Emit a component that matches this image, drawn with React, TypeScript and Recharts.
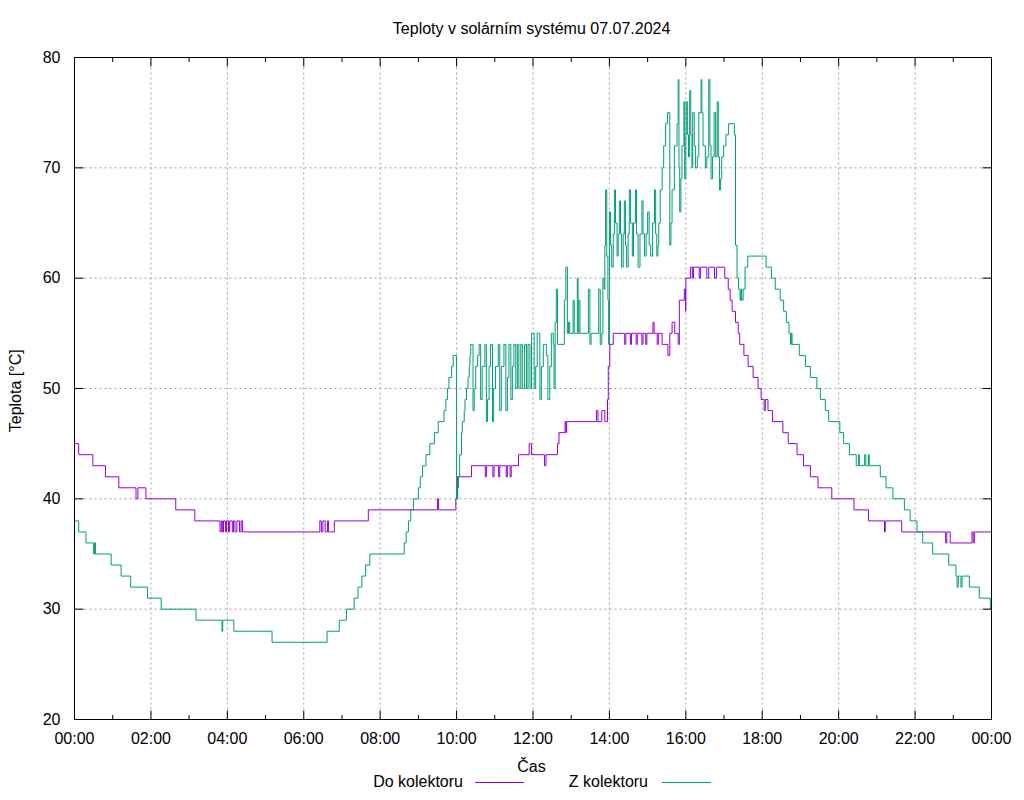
import React from 'react';
import { LineChart, Line, XAxis, YAxis, CartesianGrid, ReferenceLine } from 'recharts';

const PURPLE = '#9400d3';
const GREEN = '#009e73';
const FONT = '"Liberation Sans", Arial, sans-serif';

const TITLE = 'Teploty v solárním systému 07.07.2024';
const X_LABEL = 'Čas';
const Y_LABEL = 'Teplota [°C]';
const SERIES_NAMES = ['Do kolektoru', 'Z kolektoru'];

const hourTicks = [0, 1, 2, 3, 4, 5, 6, 7, 8, 9, 10, 11, 12, 13, 14, 15, 16, 17, 18, 19, 20, 21, 22, 23, 24];
const gridHours = [2, 4, 6, 8, 10, 12, 14, 16, 18, 20, 22];
const tempTicks = [20, 30, 40, 50, 60, 70, 80];
const gridTemps = [30, 40, 50, 60, 70];

// [hour, °C] — "Do kolektoru"
const doKolektoru: [number, number][] = [
  [0, 45], [0.11, 44], [0.48, 43], [0.81, 42], [1.16, 41], [1.61, 40], [1.66, 41], [1.87, 40],
  [2.65, 39], [3.15, 38], [3.81, 37], [3.84, 38], [3.87, 37], [3.9, 38], [3.95, 37], [3.98, 38],
  [4.03, 37], [4.06, 38], [4.13, 37], [4.16, 38], [4.2, 37], [4.25, 38], [4.32, 37], [4.36, 38],
  [4.4, 37], [6.42, 38], [6.46, 37], [6.5, 38], [6.56, 37], [6.62, 38], [6.65, 37], [6.8, 38],
  [7.69, 39], [9.5, 40], [9.53, 39], [9.98, 40], [10.02, 42], [10.39, 43], [10.75, 42], [10.78, 43],
  [10.95, 42], [10.98, 43], [11.1, 42], [11.13, 43], [11.3, 42], [11.33, 43], [11.4, 42], [11.43, 43],
  [11.62, 44], [11.9, 45], [11.96, 44], [12.3, 43], [12.34, 44], [12.64, 45], [12.68, 46], [12.84, 47],
  [12.86, 46], [12.88, 47], [13.66, 48], [13.7, 47], [13.8, 48], [13.88, 47], [13.95, 49], [13.97, 52],
  [14.01, 54], [14.1, 55], [14.4, 54], [14.43, 55], [14.55, 54], [14.58, 55], [14.7, 54], [14.73, 55],
  [14.85, 54], [14.88, 55], [14.95, 54], [14.98, 55], [15.14, 56], [15.17, 55], [15.25, 54], [15.28, 55],
  [15.38, 54], [15.53, 53], [15.58, 55], [15.64, 56], [15.71, 55], [15.8, 54], [15.83, 58], [15.96, 59],
  [15.99, 57], [16.0, 60], [16.12, 61], [16.17, 60], [16.2, 61], [16.35, 60], [16.38, 61], [16.55, 60],
  [16.6, 61], [16.75, 60], [16.8, 61], [17.02, 60], [17.11, 59], [17.16, 58], [17.21, 57], [17.3, 56],
  [17.37, 55], [17.41, 54], [17.52, 53], [17.63, 52], [17.76, 51], [17.89, 50], [17.97, 49], [18.05, 48],
  [18.08, 49], [18.15, 48], [18.27, 47], [18.54, 46], [18.68, 45], [18.91, 44], [19.08, 43], [19.26, 42],
  [19.46, 41], [19.82, 40], [20.4, 39], [20.78, 38], [21.2, 37], [21.22, 38], [21.65, 37], [22.8, 36],
  [22.83, 37], [22.92, 36], [23.49, 37], [23.52, 36], [23.55, 37], [24, 37],
];

// [hour, °C] — "Z kolektoru"
const zKolektoru: [number, number][] = [
  [0, 38], [0.11, 37], [0.3, 36], [0.5, 35], [0.52, 36], [0.55, 35], [0.96, 34], [1.22, 33],
  [1.47, 32], [1.91, 31], [2.27, 30], [3.18, 29], [3.86, 28], [3.88, 29], [4.17, 28], [5.17, 27],
  [6.61, 28], [6.93, 29], [7.12, 30], [7.32, 31], [7.42, 32], [7.52, 33], [7.62, 34], [7.73, 35],
  [8.63, 36], [8.68, 37], [8.74, 38], [8.8, 39], [8.87, 40], [9.0, 41], [9.05, 42], [9.11, 43],
  [9.2, 44], [9.3, 45], [9.42, 46], [9.52, 47], [9.67, 48], [9.72, 49], [9.76, 50], [9.8, 51],
  [9.87, 52], [9.91, 53], [10.0, 40], [10.03, 41], [10.05, 42], [10.08, 44], [10.13, 46], [10.15, 47],
  [10.2, 48], [10.22, 49], [10.26, 50], [10.3, 51], [10.33, 52], [10.35, 53],
  [10.37, 54], [10.43, 48], [10.46, 50], [10.5, 52], [10.55, 53], [10.59, 54], [10.63, 49], [10.67, 52],
  [10.74, 54], [10.78, 47], [10.81, 49], [10.85, 52], [10.89, 54], [10.94, 47], [10.97, 50], [11.02, 52],
  [11.09, 54], [11.13, 48], [11.17, 52], [11.24, 54], [11.29, 48], [11.33, 51], [11.37, 54], [11.42, 49],
  [11.46, 52], [11.5, 54], [11.55, 50], [11.59, 54], [11.63, 50], [11.68, 54], [11.72, 50], [11.78, 54],
  [11.83, 50], [11.87, 54], [11.92, 50], [11.96, 55], [12.03, 50], [12.07, 52], [12.11, 55], [12.18, 49],
  [12.22, 52], [12.27, 54], [12.35, 53], [12.39, 49], [12.44, 52], [12.48, 55], [12.53, 54], [12.55, 50],
  [12.58, 56], [12.61, 59], [12.64, 54], [12.82, 58], [12.86, 61], [12.9, 55], [12.93, 56], [12.96, 55],
  [13.05, 58], [13.08, 55], [13.16, 60], [13.18, 55], [13.2, 58], [13.23, 55], [13.45, 59], [13.49, 54],
  [13.52, 55], [13.72, 59], [13.76, 54], [13.8, 55], [13.83, 60], [13.86, 59], [13.88, 63], [13.9, 68],
  [13.93, 62], [13.96, 58], [13.98, 54], [14.0, 66],
  [14.03, 63], [14.06, 61], [14.1, 64], [14.13, 68], [14.16, 65], [14.2, 62], [14.23, 64], [14.26, 67],
  [14.29, 64], [14.32, 61], [14.36, 64], [14.39, 67], [14.42, 63], [14.45, 61], [14.49, 64], [14.52, 68],
  [14.55, 65], [14.6, 62], [14.63, 65], [14.68, 68], [14.71, 64], [14.75, 61], [14.8, 64], [14.85, 67],
  [14.88, 64], [14.92, 62], [14.96, 64], [15.0, 66], [15.04, 63], [15.08, 62], [15.13, 65], [15.18, 68],
  [15.21, 64], [15.24, 62], [15.27, 63], [15.29, 65], [15.33, 68], [15.38, 70], [15.42, 72], [15.47, 74],
  [15.52, 75], [15.58, 63], [15.61, 65], [15.64, 68], [15.7, 72], [15.77, 74], [15.8, 78], [15.82, 70],
  [15.84, 66], [15.87, 69], [15.9, 72], [15.95, 76], [15.97, 69], [16.0, 73], [16.01, 76], [16.04, 73],
  [16.07, 71], [16.1, 77], [16.13, 73], [16.16, 70], [16.18, 75], [16.22, 72], [16.25, 70], [16.3, 71],
  [16.34, 75], [16.4, 78], [16.42, 75], [16.45, 72], [16.51, 70], [16.55, 71], [16.6, 78], [16.63, 72],
  [16.66, 69], [16.7, 71], [16.74, 75], [16.78, 71], [16.82, 76], [16.85, 71], [16.88, 68], [16.91, 69],
  [16.94, 71], [16.99, 72], [17.05, 73], [17.12, 74], [17.27, 73], [17.3, 63], [17.34, 60], [17.38, 59],
  [17.42, 58], [17.44, 59], [17.46, 58], [17.5, 59], [17.55, 61], [17.62, 62],
  [18.1, 61], [18.24, 60], [18.34, 59], [18.47, 58], [18.56, 57], [18.63, 56], [18.7, 55], [18.74, 54],
  [18.76, 55], [18.78, 54], [18.97, 53], [19.13, 52], [19.26, 51], [19.43, 50], [19.52, 49], [19.65, 48],
  [19.74, 47], [20.03, 46], [20.13, 45], [20.28, 44], [20.46, 43], [20.52, 44], [20.54, 43], [20.68, 44],
  [20.71, 43], [20.78, 44], [20.8, 43], [21.09, 42], [21.24, 41], [21.42, 40], [21.72, 39], [21.87, 38],
  [22.05, 37], [22.2, 36], [22.46, 35], [22.88, 34], [23.07, 33], [23.1, 32], [23.13, 33], [23.2, 32],
  [23.23, 33], [23.42, 32], [23.68, 31], [23.97, 30], [24, 30],
];

const toRows = (pairs: [number, number][]) => pairs.map(([t, v]) => ({ t, v }));
const doData = toRows(doKolektoru);
const zData = toRows(zKolektoru);

const fmtHour = (h: number) => `${String(h % 24).padStart(2, '0')}:00`;

const textStyle = { fontFamily: FONT, fontSize: 16, fill: '#000' };
const GRID = '#a0a0a0';

const BottomTick = (props: any) => {
  const { x, y, payload } = props;
  const major = payload.value % 2 === 0;
  return (
    <g>
      <line x1={x} x2={x} y1={y} y2={y - (major ? 9 : 4.5)} stroke="#000" strokeWidth={1} />
      {major && (
        <text x={x} y={y + 24} textAnchor="middle" style={textStyle}>
          {fmtHour(payload.value)}
        </text>
      )}
    </g>
  );
};

const TopTick = (props: any) => {
  const { x, y, payload } = props;
  const major = payload.value % 2 === 0;
  return <line x1={x} x2={x} y1={y} y2={y + (major ? 9 : 4.5)} stroke="#000" strokeWidth={1} />;
};

const LeftTick = (props: any) => {
  const { x, y, payload } = props;
  return (
    <g>
      <line x1={x} x2={x + 9} y1={y} y2={y} stroke="#000" strokeWidth={1} />
      <text x={x - 14} y={y + 5} textAnchor="end" style={textStyle}>
        {payload.value}
      </text>
    </g>
  );
};

const RightTick = (props: any) => {
  const { x, y } = props;
  return <line x1={x - 9} x2={x} y1={y} y2={y} stroke="#000" strokeWidth={1} />;
};

export default function App() {
  return (
    <div style={{ position: 'absolute', left: 0, top: 0, width: 1024, height: 800, background: '#fff' }}>
      <LineChart width={1024} height={800} margin={{ top: 56.5, right: 31.5, bottom: 50.5, left: 0 }}>
        {gridTemps.map((v) => (
          <ReferenceLine key={'y' + v} y={v} xAxisId="bottom" yAxisId="left" stroke={GRID} strokeDasharray="2 3" />
        ))}
        {gridHours.map((h) => (
          <ReferenceLine key={'x' + h} x={h} xAxisId="bottom" yAxisId="left" stroke={GRID} strokeDasharray="2 3" />
        ))}
        <XAxis
          xAxisId="bottom"
          dataKey="t"
          type="number"
          domain={[0, 24]}
          ticks={hourTicks}
          interval={0}
          height={30}
          tickSize={0}
          tickMargin={0}
          tickLine={false}
          tick={<BottomTick />}
          axisLine={{ stroke: '#000', strokeWidth: 1 }}
          allowDataOverflow
        />
        <XAxis
          xAxisId="top"
          orientation="top"
          dataKey="t"
          type="number"
          domain={[0, 24]}
          ticks={hourTicks}
          interval={0}
          height={1}
          tickSize={0}
          tickMargin={0}
          tickLine={false}
          tick={<TopTick />}
          axisLine={{ stroke: '#000', strokeWidth: 1 }}
          allowDataOverflow
        />
        <YAxis
          yAxisId="left"
          type="number"
          domain={[20, 80]}
          ticks={tempTicks}
          interval={0}
          width={74.5}
          tickSize={0}
          tickMargin={0}
          tickLine={false}
          tick={<LeftTick />}
          axisLine={{ stroke: '#000', strokeWidth: 1 }}
          allowDataOverflow
        />
        <YAxis
          yAxisId="right"
          orientation="right"
          type="number"
          domain={[20, 80]}
          ticks={tempTicks}
          interval={0}
          width={1}
          tickSize={0}
          tickMargin={0}
          tickLine={false}
          tick={<RightTick />}
          axisLine={{ stroke: '#000', strokeWidth: 1 }}
          allowDataOverflow
        />
        <Line
          xAxisId="bottom"
          yAxisId="left"
          data={doData}
          dataKey="v"
          name={SERIES_NAMES[0]}
          type="stepAfter"
          stroke={PURPLE}
          strokeWidth={1}
          dot={false}
          activeDot={false}
          isAnimationActive={false}
        />
        <Line
          xAxisId="bottom"
          yAxisId="left"
          data={zData}
          dataKey="v"
          name={SERIES_NAMES[1]}
          type="stepAfter"
          stroke={GREEN}
          strokeWidth={1}
          dot={false}
          activeDot={false}
          isAnimationActive={false}
        />
      </LineChart>
      <svg
        width={1024}
        height={800}
        style={{ position: 'absolute', left: 0, top: 0, pointerEvents: 'none' }}
      >
        <text x={531.6} y={34} textAnchor="middle" style={textStyle}>{TITLE}</text>
        <text transform="translate(20.7,390.8) rotate(-90)" textAnchor="middle" style={textStyle}>{Y_LABEL}</text>
        <text x={531.5} y={771.5} textAnchor="middle" style={textStyle}>{X_LABEL}</text>
        <text x={463} y={787} textAnchor="end" style={textStyle}>{SERIES_NAMES[0]}</text>
        <line x1={475} x2={524} y1={782.5} y2={782.5} stroke={PURPLE} strokeWidth={1} />
        <text x={648} y={787} textAnchor="end" style={textStyle}>{SERIES_NAMES[1]}</text>
        <line x1={662} x2={711} y1={782.5} y2={782.5} stroke={GREEN} strokeWidth={1} />
      </svg>
    </div>
  );
}
